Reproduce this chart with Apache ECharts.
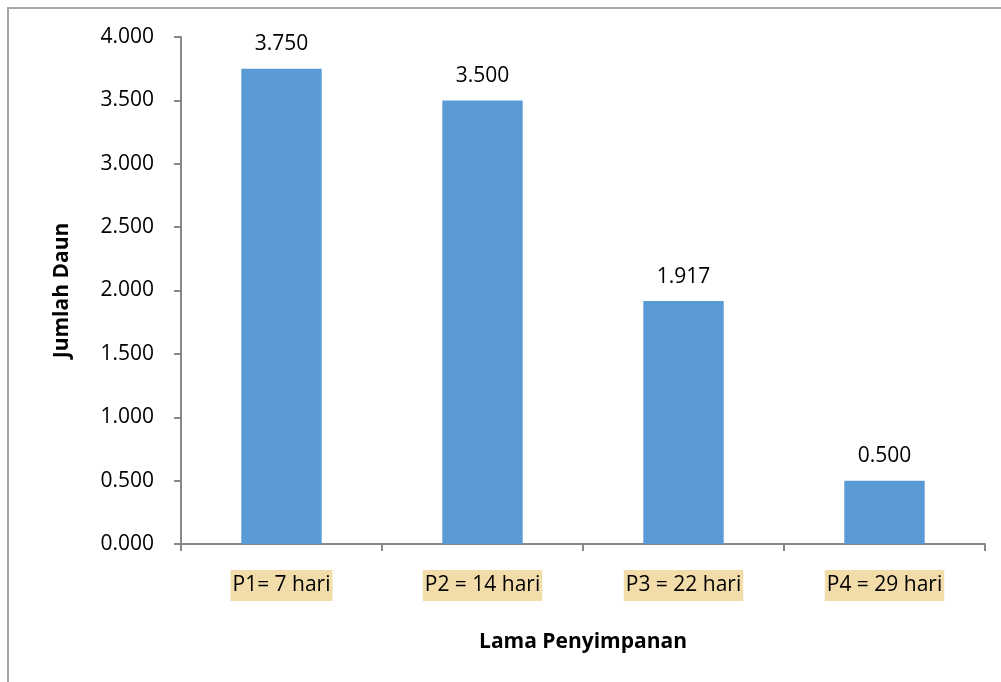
<!DOCTYPE html>
<html><head><meta charset="utf-8">
<script src="https://cdn.jsdelivr.net/npm/echarts@6/dist/echarts.min.js"></script>
<style>html,body{margin:0;padding:0;background:#fff}#c{width:1001px;height:682px}</style>
</head><body><div id="c"></div>
<script>
const categories = ['P1= 7 hari', 'P2 = 14 hari', 'P3 = 22 hari', 'P4 = 29 hari'];
const values = [3.750, 3.500, 1.917, 0.500];
const yTicks = [0, 0.5, 1, 1.5, 2, 2.5, 3, 3.5, 4];
const xTitle = 'Lama Penyimpanan';
const yTitle = 'Jumlah Daun';
const fmt = v => v.toFixed(3);
const font = '"Open Sans", sans-serif';
const chart = echarts.init(document.getElementById('c'));
chart.setOption({
  animation: false,
  graphic: [{type:'rect', shape:{x:8,y:8,width:1100,height:800}, style:{fill:'none', stroke:'#a6a6a6', lineWidth:2}}],
  grid: {left:181, right:16, top:37, bottom:138, containLabel:false},
  xAxis: {
    type:'category', data: categories,
    name: xTitle, nameLocation:'middle', nameGap: 88,
    nameTextStyle:{fontFamily:font, fontWeight:'bold', fontSize:21, color:'#000'},
    axisLine:{lineStyle:{color:'#888', width:2}},
    axisTick:{show:true, length:7, lineStyle:{color:'#888', width:2}},
    axisLabel:{fontFamily:font, fontSize:21, color:'#000', margin:26, backgroundColor:'#f2dcaa', padding:[5,2,5,2]}
  },
  yAxis: {
    type:'value', min:0, max:4, interval:0.5,
    name: yTitle, nameLocation:'middle', nameGap: 108, nameRotate: 90,
    nameTextStyle:{fontFamily:font, fontWeight:'bold', fontSize:21, color:'#000'},
    axisLine:{show:true, lineStyle:{color:'#888', width:2}},
    axisTick:{show:true, length:7, lineStyle:{color:'#888', width:2}},
    splitLine:{show:false},
    axisLabel:{fontFamily:font, fontSize:21, color:'#000', margin:27, formatter: v => fmt(v)}
  },
  series: [{
    type:'bar', data: values, barWidth:'40%',
    itemStyle:{color:'#5b9bd5'},
    label:{show:true, position:'top', distance:14, fontFamily:font, fontSize:21, color:'#000', formatter: p => fmt(p.value)}
  }]
});
</script></body></html>
